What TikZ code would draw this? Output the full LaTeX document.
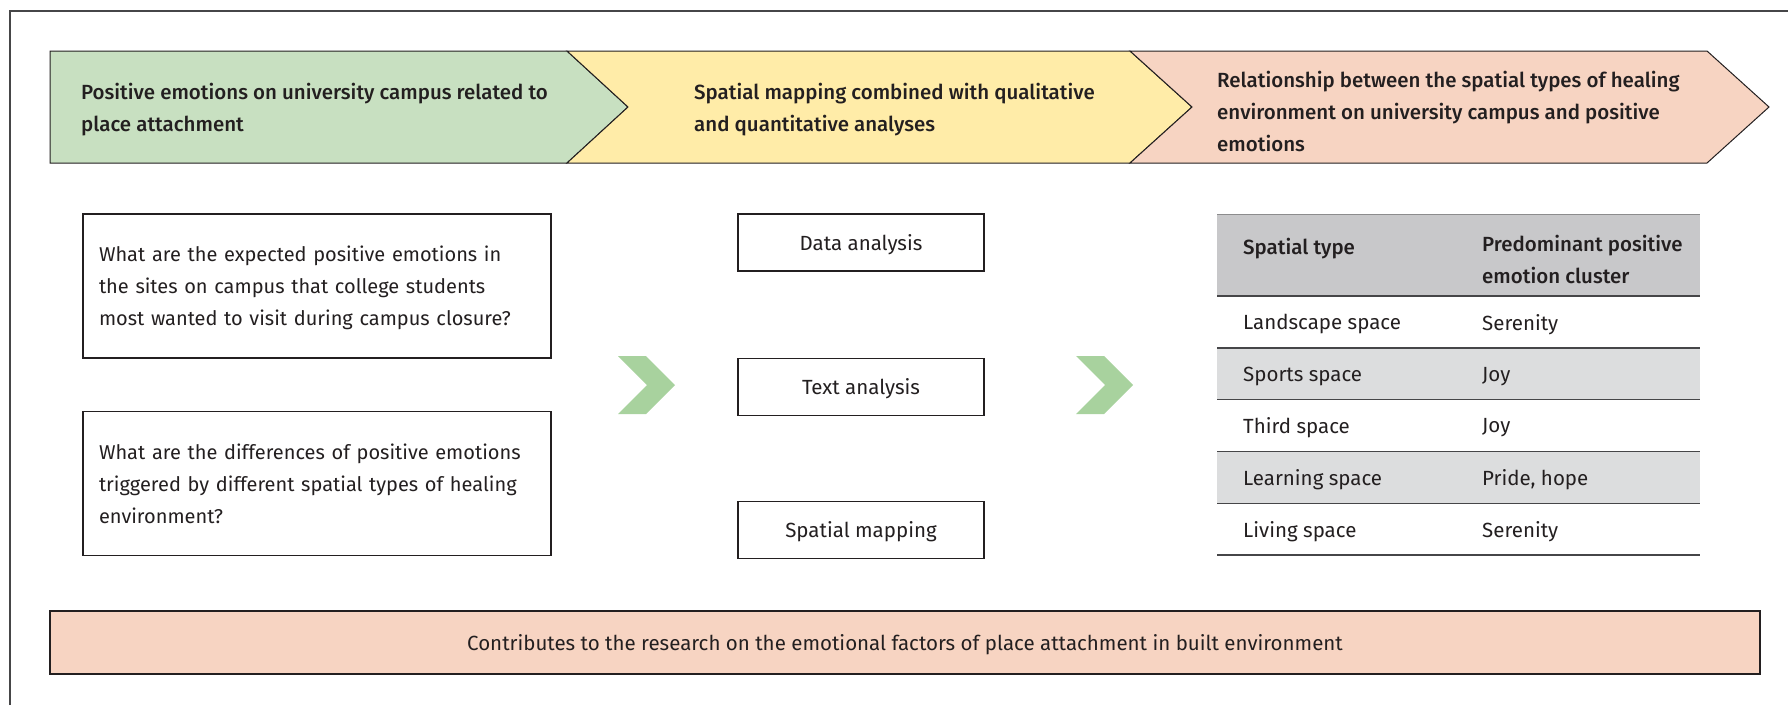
\documentclass[tikz,border=0pt]{standalone}
\usepackage{fontspec}
\setmainfont{Fira Sans}[BoldFont={Fira Sans Medium}]
\usetikzlibrary{positioning}

\definecolor{ink}{RGB}{35,31,32}
\definecolor{bandgreen}{RGB}{200,224,193}
\definecolor{bandyellow}{RGB}{255,236,168}
\definecolor{bandsalmon}{RGB}{247,212,194}
\definecolor{chevgreen}{RGB}{168,210,158}
\definecolor{hdrgray}{RGB}{200,200,202}
\definecolor{rowgray}{RGB}{220,221,222}
\definecolor{rulegray}{RGB}{70,70,72}

\begin{document}
\begin{tikzpicture}[
  x=1pt,y=-1pt,
  every node/.style={font=\fontsize{20.5}{32}\selectfont,text=ink},
  band/.style={draw=ink,line width=1pt,line join=miter},
  hdr/.style={anchor=west,align=left,inner sep=0pt,yshift=-3pt,
              font=\fontsize{20.5}{32}\selectfont\bfseries},
  qbox/.style={draw=ink,line width=1.2pt,minimum width=468pt,minimum height=144pt,
               text width=436pt,inner xsep=16pt,align=left,text depth=64.5pt,
               font=\fontsize{20}{32}\selectfont},
  mbox/.style={draw=ink,line width=1.2pt,minimum width=246pt,minimum height=57pt,
               text depth=-2pt},
  chev/.style={fill=chevgreen},
  cell/.style={anchor=west,inner sep=0pt,yshift=-2.5pt},
  rowrule/.style={draw=rulegray,line width=1.4pt}
]
  \useasboundingbox (0,0) rectangle (1788,705);

  % frame edges
  \draw[rulegray,line width=1.4pt] (10,705) -- (10,11) -- (1788,11);

  % three stages
  \path[band,fill=bandgreen]  (50,51) -- (567,51) -- (628,107) -- (567,163) -- (50,163) -- cycle;
  \path[band,fill=bandyellow] (567,51) -- (1130,51) -- (1192,107) -- (1130,163) -- (567,163) -- (628,107) -- cycle;
  \path[band,fill=bandsalmon] (1130,51) -- (1707,51) -- (1769,107) -- (1707,163) -- (1130,163) -- (1192,107) -- cycle;

  \node[hdr] (stage1) at (81,107) {Positive emotions on university campus related to\\place attachment};
  \node[hdr] (stage2) at (694,107) {Spatial mapping combined with qualitative\\and quantitative analyses};
  \node[hdr] (stage3) at (1217,108) {Relationship between the spatial types of healing\\environment on university campus and positive\\emotions};

  % questions
  \node[qbox] (q1) at (317,286) {What are the expected positive emotions in\\the sites on campus that college students\\most wanted to visit during campus closure?};
  \node[qbox] (q2) at (317,483.5) {What are the differences of positive emotions\\triggered by different spatial types of healing\\environment?};

  % methods
  \node[mbox] (data) at (861,242.5) {Data analysis};
  \node[mbox,below=86pt of data] (text) {Text analysis};
  \node[mbox,below=85pt of text] (map) {Spatial mapping};

  % chevrons
  \foreach \cx in {618,1076}
    \fill[chev] (\cx,356) -- (\cx+28,356) -- (\cx+57,385) -- (\cx+28,414)
                -- (\cx,414) -- (\cx+29,385) -- cycle;

  % results table
  \fill[hdrgray] (1217,214) rectangle (1700,296);
  \draw[draw=hdrgray!70!black,line width=1pt] (1217,214) -- (1700,214);
  \node[hdr] (th1) at (1243,246) {Spatial type};
  \node[hdr] (th2) at (1482,256.5) {Predominant positive\\emotion cluster};
  \foreach \sp/\emo [count=\i] in {Landscape space/Serenity,Sports space/Joy,
      Third space/Joy,Learning space/{Pride, hope},Living space/Serenity}{
    \pgfmathsetmacro\top{296+(\i-1)*51.8}
    \ifodd\i\else
      \fill[rowgray] (1217,\top) rectangle (1700,\top+51.8);
    \fi
    \node[cell] (sp\i) at (1243,\top+25.9) {\sp};
    \node[cell] (em\i) at (1482,\top+25.9) {\emo};
    \draw[rowrule] (1217,\top) -- (1700,\top);
  }
  \draw[rowrule] (1217,555) -- (1700,555);

  % outcome
  \node[draw=ink,line width=1.2pt,fill=bandsalmon,minimum width=1710pt,
        minimum height=63pt,text depth=-2.5pt] (outcome) at (905,642.5)
    {Contributes to the research on the emotional factors of place attachment in built environment};
\end{tikzpicture}
\end{document}
